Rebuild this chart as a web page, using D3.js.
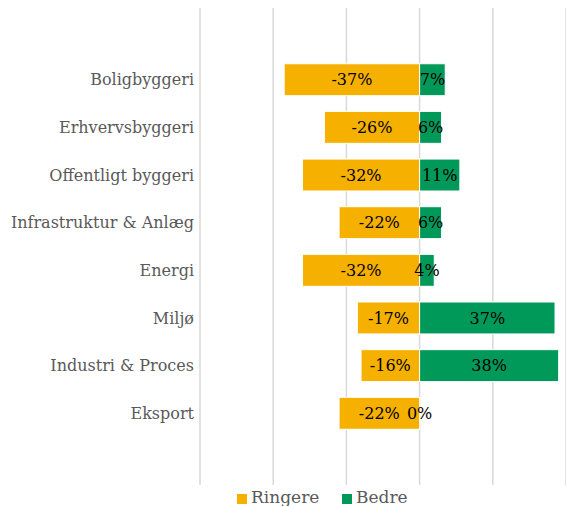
<!DOCTYPE html>
<html>
<head>
<meta charset="utf-8">
<script src="https://cdn.jsdelivr.net/npm/d3@7"></script>
<style>
  body { margin: 0; background: #fff; }
  svg text { font-family: Georgia, "DejaVu Serif", serif; }
</style>
</head>
<body>
<div id="chart"></div>
<script>
// data //
const categories = ["Boligbyggeri", "Erhvervsbyggeri", "Offentligt byggeri", "Infrastruktur & Anlæg",
  "Energi", "Miljø", "Industri & Proces", "Eksport"];
const worse = [-37, -26, -32, -22, -32, -17, -16, -22];   // Ringere
const better = [7, 6, 11, 6, 4, 37, 38, 0];                // Bedre
const xTicks = [-60, -40, -20, 0, 20, 40];
const seriesNames = ["Ringere", "Bedre"];
const colors = ["#F5B000", "#00995A"];

// dimensions //
const W = 566, H = 506;
const plot = { left: 200, right: 566, top: 8, bottom: 485 };

const svg = d3.select("#chart").append("svg")
  .attr("width", W)
  .attr("height", H);

const x = d3.scaleLinear()
  .domain([-60, 40])
  .range([plot.left, plot.right]);

const y = d3.scaleBand()
  .domain(categories)
  .range([plot.top, plot.bottom])
  .paddingInner(0.33)
  .paddingOuter(1.17);

// gridlines
svg.append("g")
  .selectAll("line")
  .data(xTicks)
  .join("line")
  .attr("x1", d => x(d)).attr("x2", d => x(d))
  .attr("y1", plot.top).attr("y2", plot.bottom)
  .attr("stroke", "#d9d9d9")
  .attr("stroke-width", 1.5);

// category labels
svg.append("g")
  .selectAll("text")
  .data(categories)
  .join("text")
  .attr("x", plot.left - 6)
  .attr("y", d => y(d) + y.bandwidth() / 2)
  .attr("dy", "0.35em")
  .attr("text-anchor", "end")
  .attr("font-size", 16)
  .attr("fill", "#595959")
  .text(d => d);

const rows = categories.map((c, i) => ({ cat: c, worse: worse[i], better: better[i] }));

// Ringere bars
svg.append("g")
  .selectAll("rect")
  .data(rows)
  .join("rect")
  .attr("x", d => x(d.worse))
  .attr("y", d => y(d.cat))
  .attr("width", d => x(0) - x(d.worse))
  .attr("height", y.bandwidth())
  .attr("fill", colors[0])
  .attr("stroke", "#fff")
  .attr("stroke-width", 1);

// Bedre bars
svg.append("g")
  .selectAll("rect")
  .data(rows)
  .join("rect")
  .attr("x", x(0))
  .attr("y", d => y(d.cat))
  .attr("width", d => x(d.better) - x(0))
  .attr("height", y.bandwidth())
  .attr("fill", colors[1])
  .attr("stroke", "#fff")
  .attr("stroke-width", 1);

// value labels
const labels = svg.append("g")
  .attr("font-size", 16)
  .attr("fill", "#000")
  .attr("text-anchor", "middle");

labels.selectAll("text.w")
  .data(rows)
  .join("text")
  .attr("class", "w")
  .attr("x", d => (x(d.worse) + x(0)) / 2)
  .attr("y", d => y(d.cat) + y.bandwidth() / 2)
  .attr("dy", "0.35em")
  .text(d => d.worse + "%");

labels.selectAll("text.b")
  .data(rows)
  .join("text")
  .attr("class", "b")
  .attr("x", d => (x(d.better) + x(0)) / 2)
  .attr("y", d => y(d.cat) + y.bandwidth() / 2)
  .attr("dy", "0.35em")
  .text(d => d.better + "%");

// legend
const legend = svg.append("g");
const legendX = [237, 342];
seriesNames.forEach((name, i) => {
  legend.append("rect")
    .attr("x", legendX[i]).attr("y", 494)
    .attr("width", 10).attr("height", 10)
    .attr("fill", colors[i]);
  legend.append("text")
    .attr("x", legendX[i] + 14).attr("y", 503)
    .attr("font-size", 17)
    .attr("fill", "#595959")
    .text(name);
});
</script>
</body>
</html>
